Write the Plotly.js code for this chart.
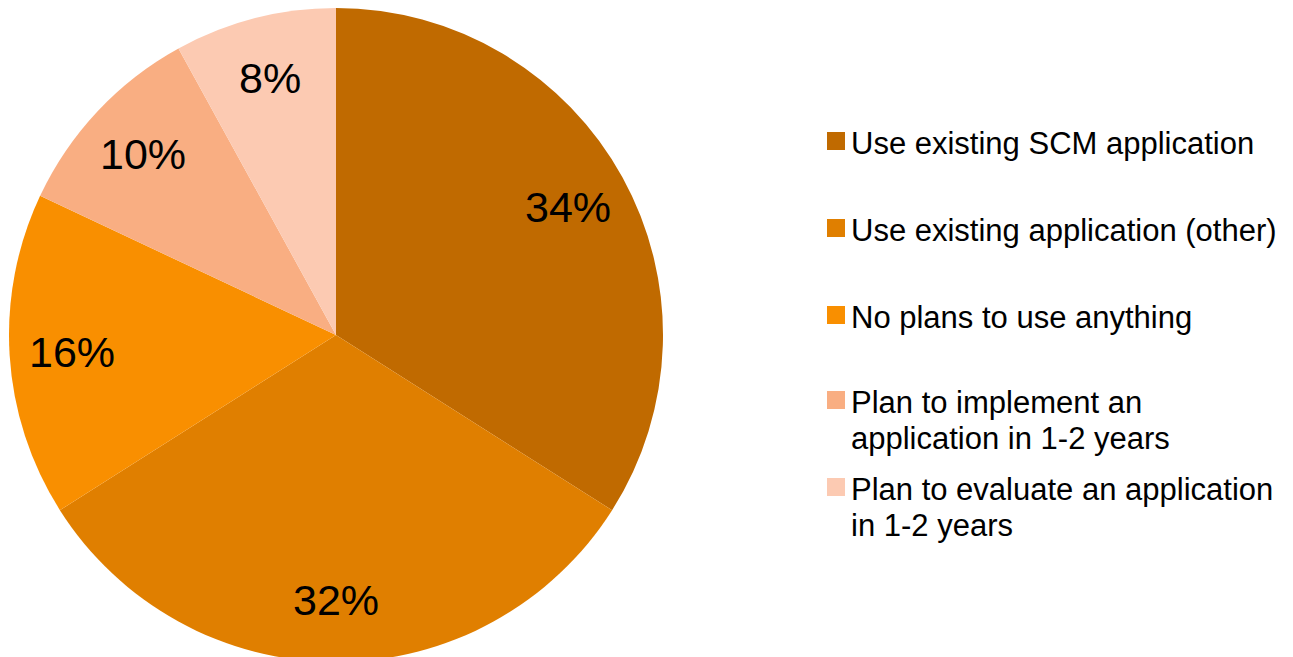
<!DOCTYPE html>
<html>
<head>
<meta charset="utf-8">
<script src="https://cdn.plot.ly/plotly-3.0.1.min.js"></script>
<style>
  html, body { margin: 0; padding: 0; overflow: hidden; background: #fff; }
  #chart { width: 1293px; height: 670px; }
</style>
</head>
<body>
<div id="chart"></div>
<script>
// ---- Data ----
const categories = [
  "Use existing SCM application",
  "Use existing application (other)",
  "No plans to use anything",
  "Plan to implement an<br>application in 1-2 years",
  "Plan to evaluate an application<br>in 1-2 years"
];
const values = [34, 32, 16, 10, 8];
const colors = ["#C06A00", "#E07F00", "#F98F00", "#F9AE82", "#FCCAB2"];

// ---- Layout geometry (pixels) ----
const W = 1293, H = 670;
const cx = 336, cy = 335, R = 327;
const labelR = 0.81 * R;
const px = x => x / W;
const py = y => 1 - y / H;

const total = values.reduce((a, b) => a + b, 0);

const trace = {
  type: "pie",
  labels: categories.map(c => c.replace("<br>", " ")),
  values: values,
  sort: false,
  direction: "clockwise",
  rotation: 0,
  marker: { colors: colors, line: { width: 0 } },
  textinfo: "none",
  hoverinfo: "label+percent",
  showlegend: false,
  domain: { x: [px(cx - R), px(cx + R)], y: [py(cy + R), py(cy - R)] }
};

const annotations = [];
const shapes = [];

// Percentage labels placed along each slice's mid angle
let cum = 0;
values.forEach((v, i) => {
  const mid = (cum + v / 2) / total * 2 * Math.PI;
  cum += v;
  const x = cx + labelR * Math.sin(mid);
  const y = cy - labelR * Math.cos(mid);
  annotations.push({
    xref: "paper", yref: "paper", x: px(x), y: py(y),
    xanchor: "center", yanchor: "middle", showarrow: false,
    text: Math.round(v / total * 100) + "%",
    font: { family: "Liberation Sans, Arial, sans-serif", size: 43, color: "#000" }
  });
});

// Custom legend
const legTop = 143, legStep = 87, lineGap = 36;
const boxX0 = 827, boxX1 = 845, textX = 850;
categories.forEach((c, i) => {
  const lines = c.split("<br>");
  const y0 = legTop + i * legStep - (lines.length > 1 ? 2 : 0);
  shapes.push({
    type: "rect", xref: "paper", yref: "paper",
    x0: px(boxX0), x1: px(boxX1), y0: py(y0 - 11), y1: py(y0 + 7),
    fillcolor: colors[i], line: { width: 0 }
  });
  lines.forEach((line, j) => {
    annotations.push({
      xref: "paper", yref: "paper", x: px(textX), y: py(y0 + j * lineGap),
      xanchor: "left", yanchor: "middle", showarrow: false,
      borderpad: 0,
      text: line,
      font: { family: "Liberation Sans, Arial, sans-serif", size: 31, color: "#000" }
    });
  });
});

const layout = {
  width: W, height: H,
  margin: { l: 0, r: 0, t: 0, b: 0 },
  paper_bgcolor: "#fff",
  showlegend: false,
  annotations: annotations,
  shapes: shapes
};

Plotly.newPlot("chart", [trace], layout, { displayModeBar: false, staticPlot: true });
</script>
</body>
</html>
